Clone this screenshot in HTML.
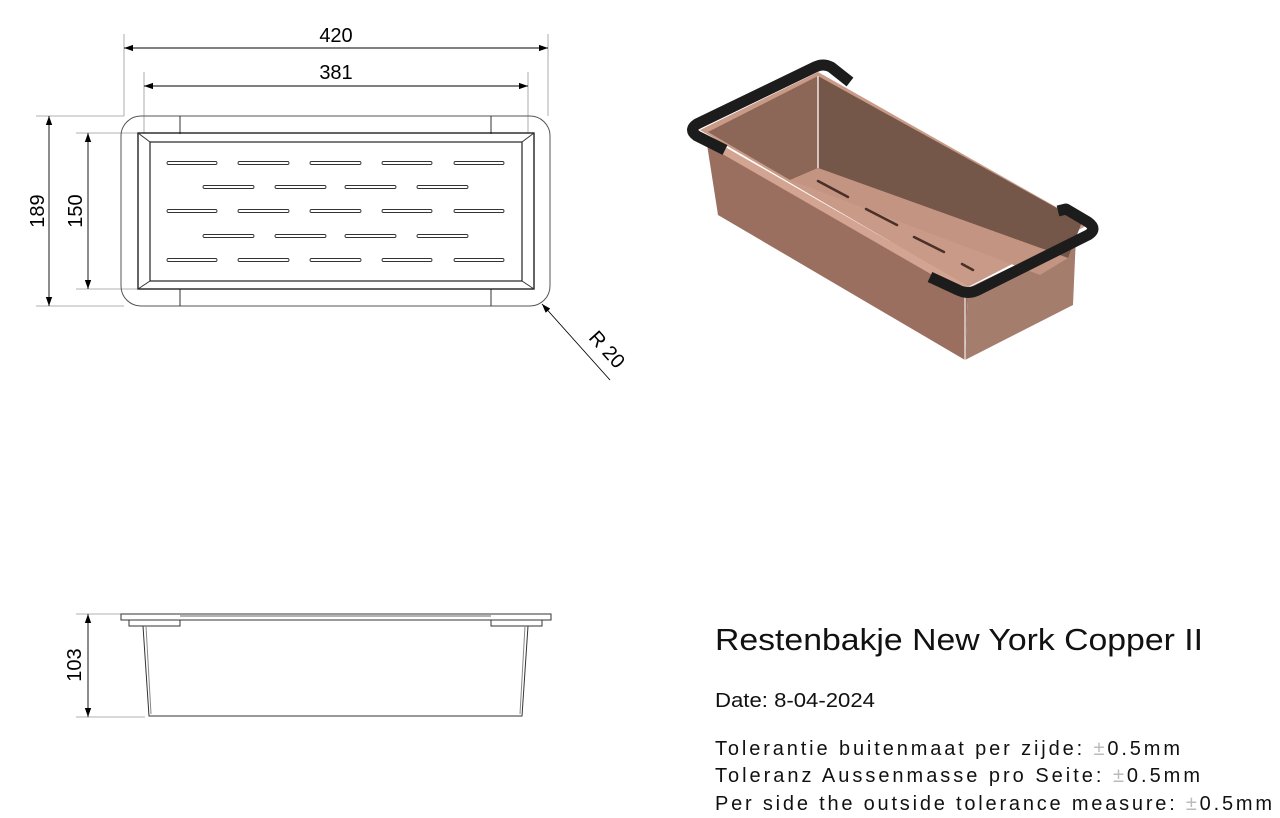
<!DOCTYPE html>
<html><head><meta charset="utf-8"><style>body{margin:0;background:#fff}svg{display:block}</style></head>
<body>
<svg width="1280" height="818" viewBox="0 0 1280 818" xmlns="http://www.w3.org/2000/svg" font-family="Liberation Sans, sans-serif">
<defs>
<marker id="a" viewBox="0 0 10 10" refX="10" refY="5" markerWidth="9" markerHeight="9" orient="auto-start-reverse" markerUnits="userSpaceOnUse"><path d="M0,1.5L10,5L0,8.5z" fill="#000"/></marker>
<g id="ra"><rect x="167" y="-1.5" width="50" height="3" rx="1.5"/><rect x="238" y="-1.5" width="51" height="3" rx="1.5"/><rect x="310" y="-1.5" width="51" height="3" rx="1.5"/><rect x="382" y="-1.5" width="50" height="3" rx="1.5"/><rect x="454" y="-1.5" width="50" height="3" rx="1.5"/></g>
<g id="rb"><rect x="203" y="-1.5" width="51" height="3" rx="1.5"/><rect x="275" y="-1.5" width="51" height="3" rx="1.5"/><rect x="345" y="-1.5" width="51" height="3" rx="1.5"/><rect x="417" y="-1.5" width="51" height="3" rx="1.5"/></g>
</defs>
<g stroke="#999" stroke-width="0.8" fill="none">
<line x1="124" y1="34" x2="124" y2="116"/><line x1="548" y1="34" x2="548" y2="116"/>
<line x1="144" y1="72" x2="144" y2="133"/><line x1="528" y1="72" x2="528" y2="133"/>
<line x1="36" y1="116" x2="124" y2="116"/><line x1="36" y1="306" x2="124" y2="306"/>
<line x1="76" y1="133" x2="138" y2="133"/><line x1="76" y1="289" x2="138" y2="289"/>
<line x1="76" y1="614" x2="121" y2="614"/><line x1="76" y1="717" x2="145" y2="717"/>
</g>
<g stroke="#000" stroke-width="0.9" fill="none">
<line x1="124" y1="48" x2="548" y2="48" marker-start="url(#a)" marker-end="url(#a)"/>
<line x1="144" y1="86" x2="528" y2="86" marker-start="url(#a)" marker-end="url(#a)"/>
<line x1="49" y1="116" x2="49" y2="306" marker-start="url(#a)" marker-end="url(#a)"/>
<line x1="88" y1="133" x2="88" y2="289" marker-start="url(#a)" marker-end="url(#a)"/>
<line x1="88" y1="614" x2="88" y2="717" marker-start="url(#a)" marker-end="url(#a)"/>
<line x1="610" y1="380" x2="542" y2="304" marker-end="url(#a)"/>
</g>
<g font-size="20" fill="#000" text-anchor="middle">
<text x="336" y="42">420</text>
<text x="336" y="79">381</text>
<text transform="translate(44,211) rotate(-90)">189</text>
<text transform="translate(82,211) rotate(-90)">150</text>
<text transform="translate(81,665) rotate(-90)">103</text>
<text transform="translate(602,354) rotate(48)">R 20</text>
</g>
<!-- top view -->
<g stroke="#333" stroke-width="1" fill="none">
<rect x="121" y="116" width="429" height="190" rx="20" stroke="#555"/>
<line x1="180" y1="116" x2="180" y2="134"/><line x1="180" y1="289" x2="180" y2="306"/>
<line x1="491" y1="116" x2="491" y2="134"/><line x1="491" y1="289" x2="491" y2="306"/>
<rect x="138" y="133" width="396" height="156" stroke="#111" stroke-width="1.3"/>
<rect x="150" y="142" width="372" height="139" stroke="#222" stroke-width="1.2"/>
<line x1="138" y1="133" x2="150" y2="142"/><line x1="534" y1="133" x2="522" y2="142"/>
<line x1="138" y1="289" x2="150" y2="281"/><line x1="534" y1="289" x2="522" y2="281"/>
</g>
<g stroke="#333" stroke-width="0.9" fill="#fff">
<use href="#ra" transform="translate(0,163)"/><use href="#rb" transform="translate(0,187)"/>
<use href="#ra" transform="translate(0,211)"/><use href="#rb" transform="translate(0,236)"/>
<use href="#ra" transform="translate(0,260)"/>
</g>
<!-- side view -->
<g stroke="#333" stroke-width="1" fill="none">
<rect x="121" y="614" width="430" height="6"/>
<rect x="129" y="620" width="51" height="6"/><rect x="491" y="620" width="51" height="6"/>
<line x1="180" y1="616" x2="491" y2="616" stroke="#666"/>
<path d="M143,626 L149,716 L522,716 L528,626"/>
<path d="M146,626 L151,714" stroke="#888"/><path d="M525,626 L520,714" stroke="#888"/>
</g>
<!-- iso -->
<g>
<polygon points="706,138 968,288 965,360 718,215" fill="#9b6f60"/>
<polygon points="968,288 1076,236 1073,305 965,360" fill="#a57d6d"/>
<line x1="965" y1="292" x2="965" y2="360" stroke="#eee" stroke-width="1.2"/>
<polygon points="700,130 818,72 1088,225 968,287" fill="#c99a87"/>
<polygon points="708,132 818,76 818,168 790,180" fill="#8c6656"/>
<polygon points="818,76 1082,222 1068,258 818,168" fill="#755749"/>
<polygon points="790,180 818,168 1068,258 1040,275" fill="#c39481"/>
<polygon points="706,136 968,286 962,292 712,148" fill="#d2a491"/>
<line x1="818" y1="76" x2="818" y2="168" stroke="#f3e7e1" stroke-width="1.5"/>
<g stroke="#4a3029" stroke-width="2.5" stroke-linecap="round">
<line x1="818" y1="181" x2="848" y2="197"/><line x1="866" y1="209" x2="897" y2="225"/><line x1="914" y1="237" x2="944" y2="252"/><line x1="962" y1="264" x2="973" y2="270"/>
</g>
<path d="M725,150 L697,136 Q688,130 697,124 L815,67 Q823,63 831,67 L850,82" fill="none" stroke="#1c1c1c" stroke-width="11" stroke-linejoin="round"/>
<path d="M1058,211 L1066,209 L1088,222 Q1098,229 1088,235 L978,290 Q968,295 958,290 L930,277" fill="none" stroke="#1c1c1c" stroke-width="11" stroke-linejoin="round"/>
</g>
<!-- text -->
<g fill="#111">
<text x="715" y="650" font-size="31" textLength="488" lengthAdjust="spacingAndGlyphs">Restenbakje New York Copper II</text>
<text x="715" y="707" font-size="20" textLength="160" lengthAdjust="spacingAndGlyphs">Date: 8-04-2024</text>
<text x="715" y="755" font-size="20" textLength="465" lengthAdjust="spacing">Tolerantie buitenmaat per zijde: <tspan fill="#bbb">±</tspan>0.5mm</text>
<text x="715" y="782" font-size="20" textLength="485" lengthAdjust="spacing">Toleranz Aussenmasse pro Seite: <tspan fill="#bbb">±</tspan>0.5mm</text>
<text x="715" y="810" font-size="20" textLength="557" lengthAdjust="spacing">Per side the outside tolerance measure: <tspan fill="#bbb">±</tspan>0.5mm</text>
</g>
</svg>
</body></html>
